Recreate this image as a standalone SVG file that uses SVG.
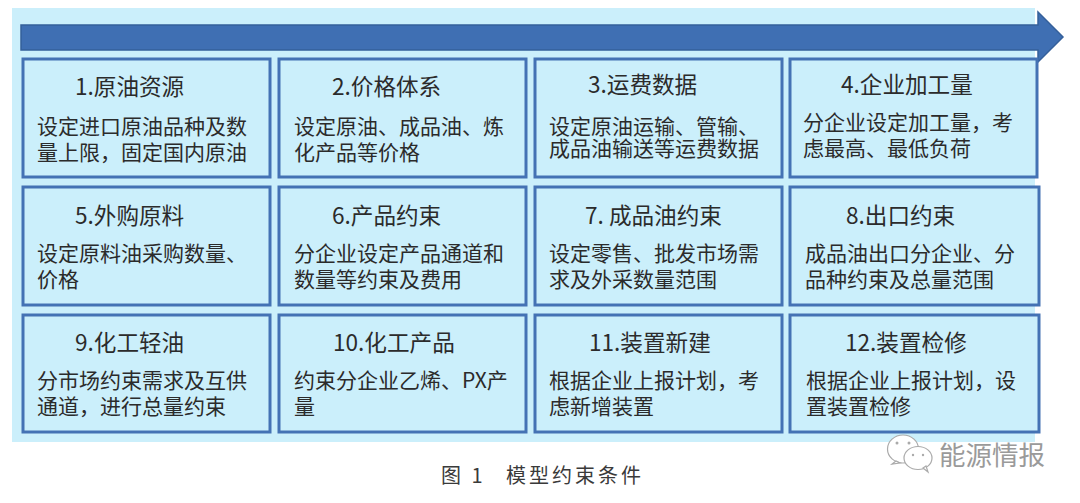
<svg xmlns="http://www.w3.org/2000/svg" width="1080" height="503" viewBox="0 0 1080 503">
<style>
text{font-family:"Noto Sans CJK SC","Liberation Sans",sans-serif;fill:#2b2b2b;}
.b{fill:#cbeffb;stroke:#4472b4;stroke-width:3;}
.h{font-size:22.6px;}
.t{font-size:21px;}
.c{font-size:20px;letter-spacing:3px;fill:#3a3a3a;}
.w{font-size:26.500px;fill:#9a9a9a;}
.wc{fill:#fff;stroke:#aaa;stroke-width:1.2;}
.e{fill:#aaa;}
</style>
<rect x="12" y="8" width="1023" height="434" fill="#cbeffb"/>
<g id="arrow"><path d="M21 25H1038V12L1063 37L1038 62V50H21Z" fill="#3f6fb3" stroke="#35609b" stroke-width="1.5"/></g>
<g id="n1"><rect class="b" x="23" y="59" width="247" height="118"/><text class="h" x="75" y="95">1.原油资源</text><text class="t"><tspan x="37" y="134">设定进口原油品种及数</tspan><tspan x="37" y="160">量上限，固定国内原油</tspan></text></g>
<g id="n2"><rect class="b" x="279" y="59" width="247" height="118"/><text class="h" x="332" y="95">2.价格体系</text><text class="t"><tspan x="294" y="134">设定原油、成品油、炼</tspan><tspan x="294" y="160">化产品等价格</tspan></text></g>
<g id="n3"><rect class="b" x="535" y="59" width="247" height="118"/><text class="h" x="588" y="93">3.运费数据</text><text class="t"><tspan x="549" y="134">设定原油运输、管输、</tspan><tspan x="549" y="156">成品油输送等运费数据</tspan></text></g>
<g id="n4"><rect class="b" x="790" y="59" width="247" height="118"/><text class="h" x="841" y="93">4.企业加工量</text><text class="t"><tspan x="803" y="130">分企业设定加工量，考</tspan><tspan x="803" y="156">虑最高、最低负荷</tspan></text></g>
<g id="n5"><rect class="b" x="23" y="187" width="247" height="118"/><text class="h" x="75" y="224">5.外购原料</text><text class="t"><tspan x="37" y="261">设定原料油采购数量、</tspan><tspan x="37" y="287">价格</tspan></text></g>
<g id="n6"><rect class="b" x="279" y="187" width="247" height="118"/><text class="h" x="332" y="224">6.产品约束</text><text class="t"><tspan x="294" y="261">分企业设定产品通道和</tspan><tspan x="294" y="287">数量等约束及费用</tspan></text></g>
<g id="n7"><rect class="b" x="535" y="187" width="247" height="118"/><text class="h" x="585" y="224">7. 成品油约束</text><text class="t"><tspan x="549" y="261">设定零售、批发市场需</tspan><tspan x="549" y="287">求及外采数量范围</tspan></text></g>
<g id="n8"><rect class="b" x="790" y="187" width="249" height="118"/><text class="h" x="846" y="224">8.出口约束</text><text class="t"><tspan x="805" y="261">成品油出口分企业、分</tspan><tspan x="805" y="287">品种约束及总量范围</tspan></text></g>
<g id="n9"><rect class="b" x="23" y="315" width="247" height="117"/><text class="h" x="75" y="351">9.化工轻油</text><text class="t"><tspan x="37" y="388">分市场约束需求及互供</tspan><tspan x="37" y="414">通道，进行总量约束</tspan></text></g>
<g id="n10"><rect class="b" x="279" y="315" width="247" height="117"/><text class="h" x="333" y="351">10.化工产品</text><text class="t"><tspan x="294" y="388">约束分企业乙烯、PX产</tspan><tspan x="294" y="414">量</tspan></text></g>
<g id="n11"><rect class="b" x="535" y="315" width="247" height="117"/><text class="h" x="589" y="351">11.装置新建</text><text class="t"><tspan x="549" y="388">根据企业上报计划，考</tspan><tspan x="549" y="414">虑新增装置</tspan></text></g>
<g id="n12"><rect class="b" x="790" y="315" width="249" height="117"/><text class="h" x="845" y="351">12.装置检修</text><text class="t"><tspan x="806" y="388">根据企业上报计划，设</tspan><tspan x="806" y="414">置装置检修</tspan></text></g>
<text class="c"><tspan x="441" y="483">图 1</tspan><tspan x="506" y="483">模型约束条件</tspan></text>
<g id="watermark"><ellipse class="wc" cx="903" cy="449" rx="15.500" ry="14"/><path class="wc" d="M896 461L892 464L900 463Z"/><ellipse class="wc" cx="918" cy="458" rx="14" ry="11.500"/><path class="wc" d="M923 468L928 472L926 466Z"/><circle class="e" cx="897" cy="443" r="1.500"/><circle class="e" cx="909" cy="443" r="1.500"/><circle class="e" cx="913" cy="455" r="1.200"/><circle class="e" cx="923" cy="455" r="1.200"/></g>
<text class="w" x="939" y="465">能源情报</text>
</svg>
